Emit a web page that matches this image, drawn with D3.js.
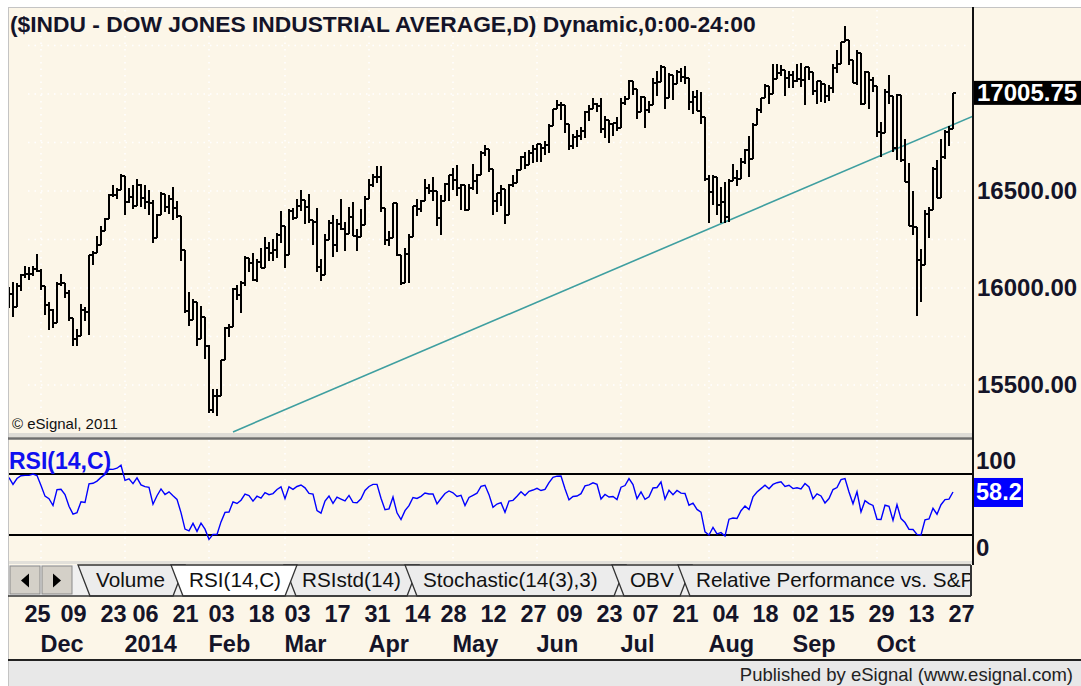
<!DOCTYPE html>
<html>
<head>
<meta charset="utf-8">
<title>$INDU daily</title>
<script src="https://cdn.jsdelivr.net/npm/d3@7/dist/d3.min.js"></script>
<style>
  body { margin: 0; background: #fff; }
  svg { display: block; }
</style>
</head>
<body>
<svg id="chart" width="1081" height="686"></svg>
<script>
// ---- data ----
const dates = [
  '2013-11-19','2013-11-20','2013-11-21','2013-11-22','2013-11-25','2013-11-26','2013-11-27','2013-11-29',
  '2013-12-02','2013-12-03','2013-12-04','2013-12-05','2013-12-06','2013-12-09','2013-12-10','2013-12-11','2013-12-12','2013-12-13',
  '2013-12-16','2013-12-17','2013-12-18','2013-12-19','2013-12-20','2013-12-23','2013-12-24','2013-12-26','2013-12-27','2013-12-30','2013-12-31',
  '2014-01-02','2014-01-03','2014-01-06','2014-01-07','2014-01-08','2014-01-09','2014-01-10','2014-01-13','2014-01-14','2014-01-15','2014-01-16',
  '2014-01-17','2014-01-21','2014-01-22','2014-01-23','2014-01-24','2014-01-27','2014-01-28','2014-01-29','2014-01-30','2014-01-31',
  '2014-02-03','2014-02-04','2014-02-05','2014-02-06','2014-02-07','2014-02-10','2014-02-11','2014-02-12','2014-02-13','2014-02-14',
  '2014-02-18','2014-02-19','2014-02-20','2014-02-21','2014-02-24','2014-02-25','2014-02-26','2014-02-27','2014-02-28',
  '2014-03-03','2014-03-04','2014-03-05','2014-03-06','2014-03-07','2014-03-10','2014-03-11','2014-03-12','2014-03-13','2014-03-14',
  '2014-03-17','2014-03-18','2014-03-19','2014-03-20','2014-03-21','2014-03-24','2014-03-25','2014-03-26','2014-03-27','2014-03-28','2014-03-31',
  '2014-04-01','2014-04-02','2014-04-03','2014-04-04','2014-04-07','2014-04-08','2014-04-09','2014-04-10','2014-04-11','2014-04-14',
  '2014-04-15','2014-04-16','2014-04-17','2014-04-21','2014-04-22','2014-04-23','2014-04-24','2014-04-25','2014-04-28','2014-04-29','2014-04-30',
  '2014-05-01','2014-05-02','2014-05-05','2014-05-06','2014-05-07','2014-05-08','2014-05-09','2014-05-12','2014-05-13','2014-05-14',
  '2014-05-15','2014-05-16','2014-05-19','2014-05-20','2014-05-21','2014-05-22','2014-05-23','2014-05-27','2014-05-28','2014-05-29','2014-05-30',
  '2014-06-02','2014-06-03','2014-06-04','2014-06-05','2014-06-06','2014-06-09','2014-06-10','2014-06-11','2014-06-12','2014-06-13',
  '2014-06-16','2014-06-17','2014-06-18','2014-06-19','2014-06-20','2014-06-23','2014-06-24','2014-06-25','2014-06-26','2014-06-27','2014-06-30',
  '2014-07-01','2014-07-02','2014-07-03','2014-07-07','2014-07-08','2014-07-09','2014-07-10','2014-07-11','2014-07-14','2014-07-15','2014-07-16',
  '2014-07-17','2014-07-18','2014-07-21','2014-07-22','2014-07-23','2014-07-24','2014-07-25','2014-07-28','2014-07-29','2014-07-30','2014-07-31',
  '2014-08-01','2014-08-04','2014-08-05','2014-08-06','2014-08-07','2014-08-08','2014-08-11','2014-08-12','2014-08-13','2014-08-14','2014-08-15',
  '2014-08-18','2014-08-19','2014-08-20','2014-08-21','2014-08-22','2014-08-25','2014-08-26','2014-08-27','2014-08-28','2014-08-29',
  '2014-09-02','2014-09-03','2014-09-04','2014-09-05','2014-09-08','2014-09-09','2014-09-10','2014-09-11','2014-09-12','2014-09-15','2014-09-16',
  '2014-09-17','2014-09-18','2014-09-19','2014-09-22','2014-09-23','2014-09-24','2014-09-25','2014-09-26','2014-09-29','2014-09-30',
  '2014-10-01','2014-10-02','2014-10-03','2014-10-06','2014-10-07','2014-10-08','2014-10-09','2014-10-10','2014-10-13','2014-10-14',
  '2014-10-15','2014-10-16','2014-10-17','2014-10-20','2014-10-21','2014-10-22','2014-10-23','2014-10-24','2014-10-27','2014-10-28'
];

const open = [
  15975,15967,15900,16010,16065,16073,16073,16097,
  16086,16008,15914,15889,15821,16020,16025,15973,15844,15739,15755,15885,15875,16168,16179,16221,16294,16358,16479,16478,16505,
  16577,16441,16470,16425,16530,16462,16444,16437,16257,16374,16482,16418,16459,16414,16373,16198,15879,15837,15929,15739,15849,
  15699,15373,15445,15441,15628,15794,15801,15994,15964,16027,16154,16130,16040,16133,16104,16207,16179,16198,16273,
  16322,16168,16396,16361,16422,16453,16418,16351,16341,16109,16065,16247,16337,16223,16332,16303,16276,16367,16269,16264,16323,
  16458,16533,16573,16573,16413,16246,16257,16437,16171,16027,16174,16263,16425,16409,16449,16514,16501,16501,16361,16448,16535,
  16581,16558,16513,16530,16401,16518,16551,16583,16695,16715,16613,16447,16491,16511,16374,16533,16543,16606,16676,16633,16698,
  16717,16743,16722,16737,16836,16924,16943,16945,16843,16734,16776,16781,16808,16906,16921,16947,16937,16818,16867,16846,16851,
  16827,16956,16976,17068,17024,16906,16985,16915,16944,17055,17061,17138,16977,17100,17052,17114,17087,17084,16961,16983,16913,16881,
  16563,16493,16570,16430,16443,16368,16554,16569,16561,16652,16713,16663,16839,16919,16979,17040,17001,17076,17107,17123,17080,
  17098,17068,17079,17070,17138,17112,17014,17068,17050,16988,17032,17132,17157,17266,17280,17173,17056,17211,16946,17114,17071,
  17043,16805,16801,17009,16992,16720,16994,16659,16544,16321,16315,16142,16117,16380,16400,16615,16462,16677,16805,16818
];
const high = [
  16005,16030,16025,16070,16111,16110,16115,16174,
  16100,16008,15930,15890,16030,16070,16025,15990,15845,15790,15920,15900,16168,16190,16270,16318,16360,16483,16529,16514,16588,
  16577,16518,16532,16562,16535,16530,16505,16453,16383,16497,16482,16479,16521,16451,16373,16198,15980,15942,15929,15907,15849,
  15708,15481,15478,15630,15798,15813,16000,16017,16035,16164,16154,16182,16147,16207,16264,16235,16254,16283,16398,
  16322,16406,16410,16460,16505,16453,16484,16352,16410,16150,16279,16348,16375,16355,16461,16340,16419,16443,16302,16405,16472,
  16560,16588,16631,16631,16413,16292,16440,16437,16171,16207,16276,16425,16460,16456,16561,16534,16573,16501,16478,16542,16581,
  16621,16632,16536,16530,16536,16640,16590,16707,16735,16715,16613,16491,16531,16511,16537,16581,16613,16681,16701,16712,16737,
  16744,16743,16760,16845,16925,16970,16958,16945,16843,16792,16812,16828,16910,16945,16978,16952,16978,16885,16867,16852,16880,
  16978,16990,17074,17068,17024,16991,16985,16966,17084,17120,17151,17138,17107,17100,17123,17132,17146,17084,17013,17021,17010,16881,
  16583,16581,16570,16519,16546,16562,16640,16610,16669,16717,16783,16850,16926,16981,17052,17040,17153,17154,17151,17123,17119,
  17120,17153,17161,17138,17138,17112,17068,17068,17051,17046,17156,17226,17268,17351,17280,17173,17227,17211,17121,17114,17088,
  17043,16857,17027,17099,16992,17000,16994,16770,16645,16500,16315,16200,16400,16415,16624,16660,16770,16814,16836,17006
];
const low = [
  15895,15850,15900,15985,16051,16040,16060,16082,
  15990,15860,15784,15795,15821,16010,15950,15830,15703,15703,15755,15830,15760,16120,16179,16221,16294,16358,16470,16460,16505,
  16375,16439,16405,16425,16416,16406,16375,16231,16257,16374,16391,16383,16348,16360,16140,15871,15804,15837,15703,15739,15632,
  15356,15356,15340,15441,15628,15745,15801,15936,15870,16012,16081,16034,16030,16103,16104,16140,16138,16154,16233,
  16102,16168,16350,16361,16397,16330,16337,16224,16080,16035,16065,16247,16159,16188,16300,16189,16276,16266,16190,16264,16323,
  16458,16522,16540,16394,16224,16218,16257,16163,16015,16027,16028,16263,16371,16392,16449,16487,16448,16322,16275,16448,16446,
  16507,16473,16402,16399,16401,16505,16487,16583,16682,16600,16374,16390,16422,16330,16374,16519,16543,16606,16613,16633,16646,
  16647,16652,16683,16694,16836,16924,16866,16800,16711,16714,16726,16761,16774,16859,16921,16905,16797,16772,16749,16785,16808,
  16827,16944,16976,16995,16870,16906,16826,16900,16944,16988,17061,16925,16977,16970,17052,17061,17049,16915,16898,16912,16844,16550,
  16334,16426,16375,16334,16333,16341,16554,16524,16561,16641,16570,16663,16839,16903,16979,16948,17001,17076,17094,16992,17031,
  17030,17063,17037,16944,17074,16997,16951,16960,16952,16962,17004,17108,17157,17266,17150,17055,17048,16945,16946,16921,17009,
  16776,16674,16801,16947,16702,16660,16650,16544,16321,16275,15855,15930,16117,16258,16400,16462,16462,16664,16732,16818
];
const close = [
  15967,15901,16010,16065,16073,16073,16097,16086,
  16008,15914,15889,15821,16020,16025,15973,15844,15739,15755,15885,15875,16168,16179,16221,16294,16358,16479,16478,16505,16577,
  16441,16470,16425,16530,16462,16444,16437,16257,16374,16482,16418,16459,16414,16373,16198,15879,15837,15929,15739,15849,15699,
  15373,15445,15441,15628,15794,15801,15994,15964,16027,16154,16130,16040,16133,16104,16207,16179,16198,16273,16322,
  16168,16396,16361,16422,16453,16418,16351,16341,16109,16065,16247,16337,16223,16332,16303,16276,16367,16269,16264,16323,16458,
  16533,16573,16573,16413,16246,16257,16437,16171,16027,16174,16263,16425,16409,16449,16514,16501,16501,16361,16448,16535,16581,
  16558,16513,16530,16401,16518,16551,16583,16695,16715,16613,16447,16491,16511,16374,16533,16543,16606,16676,16633,16698,16717,
  16743,16722,16737,16836,16924,16943,16945,16843,16734,16776,16781,16808,16906,16921,16947,16937,16818,16867,16846,16851,16827,
  16956,16976,17068,17024,16906,16985,16915,16944,17055,17061,17138,16977,17100,17052,17114,17087,17084,16961,16983,16913,16881,16563,
  16493,16570,16430,16443,16368,16554,16569,16561,16652,16713,16663,16839,16919,16979,17040,17001,17076,17107,17123,17080,17098,
  17068,17079,17070,17138,17112,17014,17068,17050,16988,17032,17132,17157,17266,17280,17173,17056,17211,16946,17114,17071,17043,
  16805,16801,17009,16992,16720,16994,16659,16544,16321,16315,16142,16117,16380,16400,16615,16462,16677,16805,16818,17005.75
];
// closes before the first visible bar, used only to warm up the RSI
const priorCloses = [
  15192,15133,14996,15073,14936,14777,14803,15126,15237,15301,15168,15374,15372,15400,15392,15468,15413,15509,15570,15569,
  15680,15618,15546,15616,15639,15619,15747,15594,15762,15783,15751,15822,15876,15962,15976
];

// trend line anchors
const trendDates = ['2014-02-11', '2014-10-28'];
const trendValues = [15258, 16842];

// axis labels
const priceTicks = [15500, 16000, 16500];
const priceGrid = [15500, 15750, 16000, 16250, 16500, 16750, 17000, 17250];
const dayTicks = ['2013-11-25','2013-12-09','2013-12-23','2014-01-06','2014-01-21','2014-02-03','2014-02-18','2014-03-03',
  '2014-03-17','2014-03-31','2014-04-14','2014-04-28','2014-05-12','2014-05-27','2014-06-09','2014-06-23','2014-07-07',
  '2014-07-21','2014-08-04','2014-08-18','2014-09-02','2014-09-15','2014-09-29','2014-10-13','2014-10-27'];
const monthDates = ['2013-12-02','2014-01-02','2014-02-03','2014-03-03','2014-04-01','2014-05-01','2014-06-02',
  '2014-07-01','2014-08-01','2014-09-02','2014-10-01'];
const monthNames = ['Dec','2014','Feb','Mar','Apr','May','Jun','Jul','Aug','Sep','Oct'];
const rsiLevels = [70, 30];
const rsiScaleLabels = ['100', '0'];
const tabNames = ['Volume', 'RSI(14,C)', 'RSIstd(14)', 'Stochastic(14(3),3)', 'OBV', 'Relative Performance vs. S&P 500'];
const activeTab = 1;

// ---- layout ----
const W = 1081, H = 686;
const L = 8, R = 973;
const pTop = 8, pBot = 433;
const rTop = 440, rBot = 561;
const tabTop = 565, tabBot = 596;
const statTop = 661;
const tabLeft = [78, 171, 284, 405, 612, 678];   // top-left corner of each tab
const cream = '#fcf6e8';
const font = '"Liberation Sans", Arial, sans-serif';

const svg = d3.select('#chart').attr('font-family', font);

const x = d3.scalePoint().domain(dates).range([9, 953]);
const yP = d3.scaleLinear().domain([15500, 17000]).range([385, 94]);
const yR = d3.scaleLinear().domain([30, 70]).range([535, 474]);

// RSI (Wilder, 14)
function wilderRsi(values, n) {
  const out = [];
  let g = 0, l = 0;
  for (let i = 1; i <= n; i++) {
    const d = values[i] - values[i - 1];
    if (d > 0) g += d; else l -= d;
  }
  g /= n; l /= n;
  out[n] = 100 - 100 / (1 + g / l);
  for (let i = n + 1; i < values.length; i++) {
    const d = values[i] - values[i - 1];
    g = (g * (n - 1) + Math.max(d, 0)) / n;
    l = (l * (n - 1) + Math.max(-d, 0)) / n;
    out[i] = l === 0 ? 100 : 100 - 100 / (1 + g / l);
  }
  return out;
}
const rsi = wilderRsi(priorCloses.concat(close), 14).slice(priorCloses.length);

// backgrounds
svg.append('rect').attr('width', W).attr('height', H).attr('fill', '#fff');
svg.append('rect').attr('x', L).attr('y', 7).attr('width', W - L).attr('height', statTop - 7).attr('fill', cream);
svg.append('rect').attr('x', L).attr('y', statTop).attr('width', W - L).attr('height', H - statTop).attr('fill', '#e8e8e8');
svg.append('line').attr('x1', L).attr('x2', W).attr('y1', 7.5).attr('y2', 7.5).attr('stroke', '#c4c4c4');
svg.append('line').attr('x1', L + 0.5).attr('x2', L + 0.5).attr('y1', 7).attr('y2', H).attr('stroke', '#c4c4c4');
svg.append('line').attr('x1', L).attr('x2', W).attr('y1', statTop - 1).attr('y2', statTop - 1)
  .attr('stroke', '#222').attr('stroke-width', 2);

const defs = svg.append('defs');
defs.append('clipPath').attr('id', 'clipP').append('rect')
  .attr('x', L + 1).attr('y', pTop).attr('width', R - L - 1).attr('height', pBot - pTop);
defs.append('clipPath').attr('id', 'clipR').append('rect')
  .attr('x', L + 1).attr('y', rTop).attr('width', R - L - 1).attr('height', rBot - rTop);
defs.append('clipPath').attr('id', 'clipT').append('rect')
  .attr('x', L).attr('y', tabTop - 2).attr('width', 971 - L).attr('height', tabBot - tabTop + 4);

// grid
const grid = svg.append('g').attr('stroke', '#ffffff').attr('stroke-width', 1.5).attr('stroke-dasharray', '1.5,5');
monthDates.forEach(d => {
  grid.append('line').attr('x1', x(d)).attr('x2', x(d)).attr('y1', pTop + 2).attr('y2', pBot);
  grid.append('line').attr('x1', x(d)).attr('x2', x(d)).attr('y1', rTop).attr('y2', rBot);
});
priceGrid.forEach(v => {
  grid.append('line').attr('x1', L + 20).attr('x2', R - 6).attr('y1', yP(v)).attr('y2', yP(v));
});

// price pane
const pane = svg.append('g').attr('clip-path', 'url(#clipP)');

const t0 = [x(trendDates[0]), yP(trendValues[0])];
const t1 = [x(trendDates[1]), yP(trendValues[1])];
const slope = (t1[1] - t0[1]) / (t1[0] - t0[0]);
pane.append('line')
  .attr('x1', t0[0]).attr('y1', t0[1])
  .attr('x2', R).attr('y2', t0[1] + slope * (R - t0[0]))
  .attr('stroke', '#3f9fa0').attr('stroke-width', 1.6);

const bp = d3.path();
dates.forEach((d, i) => {
  const cx = x(d);
  bp.moveTo(cx, yP(high[i])); bp.lineTo(cx, yP(low[i]));
  bp.moveTo(cx - 3, yP(open[i])); bp.lineTo(cx, yP(open[i]));
  bp.moveTo(cx, yP(close[i])); bp.lineTo(cx + 3, yP(close[i]));
});
pane.append('path').attr('d', bp.toString()).attr('fill', 'none')
  .attr('stroke', '#000').attr('stroke-width', 2).attr('shape-rendering', 'crispEdges');

svg.append('text').attr('x', 10).attr('y', 31.5)
  .attr('font-size', 22.8).attr('font-weight', 'bold').attr('fill', '#141428')
  .text('($INDU - DOW JONES INDUSTRIAL AVERAGE,D) Dynamic,0:00-24:00');

svg.append('text').attr('x', 12).attr('y', 429).attr('font-size', 15).attr('fill', '#111')
  .text('\u00a9 eSignal, 2011');

// pane splitter
svg.append('rect').attr('x', L + 1).attr('y', pBot).attr('width', R - L - 1).attr('height', 4).attr('fill', '#dedcd6');
svg.append('line').attr('x1', L).attr('x2', R).attr('y1', 438.5).attr('y2', 438.5).attr('stroke', '#6e6e6e').attr('stroke-width', 2.5);
svg.append('rect').attr('x', L + 1).attr('y', rBot).attr('width', R - L - 1).attr('height', 3).attr('fill', '#e2e0da');

// price axis
const yAxis = d3.axisRight(yP).tickValues(priceTicks).tickFormat(d3.format('.2f')).tickSize(0).tickPadding(4);
const gy = svg.append('g').attr('transform', `translate(${R},0)`).call(yAxis);
gy.select('.domain').remove();
gy.selectAll('text').attr('font-family', font).attr('font-size', 24).attr('font-weight', 'bold').attr('fill', '#141428');

const last = close[close.length - 1];
svg.append('rect').attr('x', R).attr('y', yP(last) - 12).attr('width', W - R).attr('height', 24).attr('fill', '#000');
svg.append('text').attr('x', R + 4).attr('y', yP(last)).attr('dy', '0.35em')
  .attr('font-size', 24).attr('font-weight', 'bold').attr('fill', '#fff')
  .text(d3.format('.2f')(last));

// RSI pane
const rp = svg.append('g').attr('clip-path', 'url(#clipR)');
rsiLevels.forEach(v => {
  rp.append('line').attr('x1', L).attr('x2', R).attr('y1', yR(v)).attr('y2', yR(v))
    .attr('stroke', '#000').attr('stroke-width', 1.8);
});
rp.append('path').datum(rsi)
  .attr('d', d3.line().x((d, i) => x(dates[i])).y(d => yR(d)))
  .attr('fill', 'none').attr('stroke', '#0000ff').attr('stroke-width', 1.4);

svg.append('text').attr('x', 9).attr('y', 469).attr('font-size', 23).attr('font-weight', 'bold')
  .attr('fill', '#1010f0').text('RSI(14,C)');

svg.selectAll('text.rsil').data(rsiScaleLabels).join('text')
  .attr('x', R + 3).attr('y', (d, i) => i === 0 ? 461 : 548).attr('dy', '0.35em')
  .attr('font-size', 24).attr('font-weight', 'bold').attr('fill', '#141428').text(d => d);

const lastRsi = rsi[rsi.length - 1];
svg.append('rect').attr('x', R + 1).attr('y', yR(lastRsi) - 14).attr('width', 49).attr('height', 29).attr('fill', '#0000ff');
svg.append('text').attr('x', R + 3).attr('y', yR(lastRsi)).attr('dy', '0.35em')
  .attr('font-size', 23.5).attr('font-weight', 'bold').attr('fill', '#fff')
  .text(d3.format('.1f')(lastRsi));

// vertical axis line
svg.append('line').attr('x1', R).attr('x2', R).attr('y1', 7).attr('y2', tabTop)
  .attr('stroke', '#111').attr('stroke-width', 2);

// tab row
const tabRow = svg.append('g');
tabRow.append('rect').attr('x', L + 1).attr('y', tabTop).attr('width', 971 - L - 1).attr('height', tabBot - tabTop).attr('fill', '#f0f0f0');
[[10, 0], [42, 1]].forEach(([bx, k]) => {
  tabRow.append('rect').attr('x', bx).attr('y', tabTop + 1).attr('width', 30).attr('height', tabBot - tabTop - 3)
    .attr('fill', '#d4d0c8').attr('stroke', '#8a8a8a');
  const cx = bx + 15, cy = (tabTop + tabBot) / 2;
  const tri = k === 0 ? [[cx + 4, cy - 7], [cx + 4, cy + 7], [cx - 4, cy]] : [[cx - 4, cy - 7], [cx - 4, cy + 7], [cx + 4, cy]];
  tabRow.append('path').attr('d', d3.line()(tri) + 'Z').attr('fill', '#000');
});

const tabs = tabRow.append('g').attr('clip-path', 'url(#clipT)');
const slant = 12;
const tabGeo = tabNames.map((name, i) => ({
  name, i, x0: tabLeft[i], x1: (i + 1 < tabLeft.length ? tabLeft[i + 1] : 1000) + 14
}));
const order = tabGeo.filter(g => g.i !== activeTab).concat(tabGeo.filter(g => g.i === activeTab));
order.forEach(g => {
  const x1 = g.i === activeTab ? tabLeft[g.i + 1] + 13 : g.x1;
  const pts = [[g.x0, tabTop], [x1, tabTop], [x1 - slant, tabBot], [g.x0 + slant, tabBot]];
  tabs.append('path').attr('d', d3.line()(pts) + 'Z')
    .attr('fill', g.i === activeTab ? '#ffffff' : '#ececec')
    .attr('stroke', '#333').attr('stroke-width', 1.3);
  tabs.append('text').attr('x', g.x0 + 18).attr('y', tabBot - 9)
    .attr('font-size', 20.7).attr('fill', '#111').text(g.name);
});
tabRow.append('line').attr('x1', L).attr('x2', 971).attr('y1', tabBot).attr('y2', tabBot).attr('stroke', '#333').attr('stroke-width', 1.5);
tabRow.append('line').attr('x1', 971).attr('x2', 971).attr('y1', tabTop).attr('y2', tabBot).attr('stroke', '#333').attr('stroke-width', 2);

// date axis
const dayAxis = d3.axisBottom(x).tickValues(dayTicks).tickFormat(d => d.slice(8, 10)).tickSize(0);
const gd = svg.append('g').attr('transform', 'translate(0,622)').call(dayAxis);
gd.select('.domain').remove();
gd.selectAll('text').attr('y', 0).attr('dy', 0).attr('dx', -1).attr('text-anchor', 'start')
  .attr('font-family', font).attr('font-size', 23.5).attr('font-weight', 'bold').attr('fill', '#141428');

const monthAxis = d3.axisBottom(x).tickValues(monthDates).tickFormat((d, i) => monthNames[i]).tickSize(0);
const gm = svg.append('g').attr('transform', 'translate(0,652)').call(monthAxis);
gm.select('.domain').remove();
gm.selectAll('text').attr('y', 0).attr('dy', 0).attr('dx', -1).attr('text-anchor', 'start')
  .attr('font-family', font).attr('font-size', 23.5).attr('font-weight', 'bold').attr('fill', '#141428');

// status bar
svg.append('text').attr('x', 1073).attr('y', 681).attr('text-anchor', 'end')
  .attr('font-size', 18.5).attr('fill', '#222').text('Published by eSignal (www.esignal.com)');
</script>
</body>
</html>
